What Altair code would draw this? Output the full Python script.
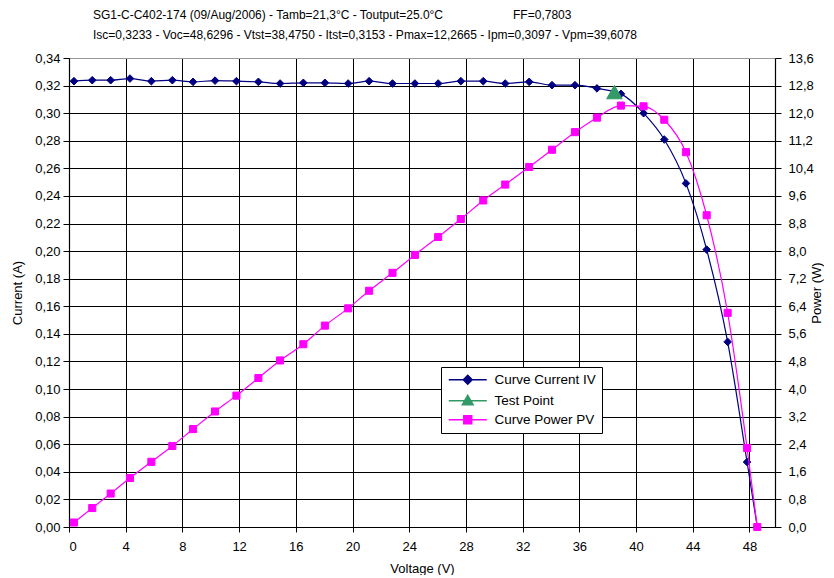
import altair as alt
import pandas as pd

# ---- data ----
voltage = [0.35, 1.64, 2.94, 4.30, 5.81, 7.29, 8.75, 10.30, 11.81, 13.36, 14.89,
           16.53, 18.05, 19.69, 21.17, 22.82, 24.40, 26.04, 27.64, 29.22, 30.77,
           32.46, 34.07, 35.69, 37.24, 38.93, 40.53, 41.99, 43.52, 44.98, 46.46,
           47.83, 48.55]
current = [0.3232, 0.3239, 0.3239, 0.3251, 0.3232, 0.3239, 0.3227, 0.3236, 0.3232,
           0.3227, 0.3215, 0.3220, 0.3220, 0.3215, 0.3232, 0.3215, 0.3215, 0.3215,
           0.3232, 0.3232, 0.3215, 0.3227, 0.3203, 0.3203, 0.3180, 0.3140, 0.3000,
           0.2809, 0.2491, 0.2011, 0.1342, 0.0471, 0.0]
power = [0.13, 0.55, 0.97, 1.42, 1.89, 2.35, 2.84, 3.35, 3.81, 4.32, 4.83, 5.30,
         5.84, 6.34, 6.85, 7.37, 7.89, 8.41, 8.93, 9.47, 9.93, 10.44, 10.94, 11.45,
         11.87, 12.22, 12.20, 11.81, 10.87, 9.04, 6.21, 2.29, 0.0]
test_v = [38.475]
test_i = [0.3153]

series_names = ["Curve Current IV", "Test Point", "Curve Power PV"]
series_colors = ["#000080", "#339966", "#FF00FF"]

x_ticks = [0, 4, 8, 12, 16, 20, 24, 28, 32, 36, 40, 44, 48]
i_ticks = [0.00, 0.02, 0.04, 0.06, 0.08, 0.10, 0.12, 0.14, 0.16, 0.18, 0.20,
           0.22, 0.24, 0.26, 0.28, 0.30, 0.32, 0.34]
p_ticks = [0.0, 0.8, 1.6, 2.4, 3.2, 4.0, 4.8, 5.6, 6.4, 7.2, 8.0, 8.8, 9.6,
           10.4, 11.2, 12.0, 12.8, 13.6]

title_line1 = "SG1-C-C402-174 (09/Aug/2006) - Tamb=21,3°C - Toutput=25.0°C"
title_ff = "FF=0,7803"
title_line2 = ("Isc=0,3233 - Voc=48,6296 - Vtst=38,4750 - Itst=0,3153 - "
               "Pmax=12,2665 - Ipm=0,3097 - Vpm=39,6078")

FONT = "Liberation Sans"

df_iv = pd.DataFrame({"V": voltage, "I": current, "series": series_names[0]})
df_tp = pd.DataFrame({"V": test_v, "I": test_i, "series": series_names[1]})
df_pv = pd.DataFrame({"V": voltage, "P": power, "series": series_names[2]})

# legend glyphs: short line with marker
p_iv = "M-1,0 L6.6,0 M2.8,-0.9 L3.7,0 L2.8,0.9 L1.9,0 Z"
p_tp = "M-1,0 L6.6,0 M2.8,-1.1 L3.9,0.8 L1.7,0.8 Z"
p_pv = "M-1,0 L6.6,0 M2.0,-0.8 L3.6,-0.8 L3.6,0.8 L2.0,0.8 Z"
shape_sig = ("datum.value === 'Curve Current IV' ? '" + p_iv + "' : "
             "datum.value === 'Test Point' ? '" + p_tp + "' : '" + p_pv + "'")

legend = alt.Legend(
    title=None, orient="none", legendX=372, legendY=309,
    fillColor="white", strokeColor="black", padding=6,
    labelFont=FONT, labelFontSize=13.5, labelColor="black",
    symbolSize=100, labelOffset=34, rowPadding=4,
    symbolType={"expr": shape_sig}, symbolStrokeWidth=1.4, symbolOpacity=1,
)
sc = alt.Scale(domain=series_names, range=series_colors)
fill_enc = alt.Fill("series:N", scale=sc, legend=legend)
stroke_enc = alt.Stroke("series:N", scale=sc, legend=legend)

x_enc = alt.X("V:Q", scale=alt.Scale(domain=[0, 49.8], nice=False, zero=False),
              axis=alt.Axis(values=x_ticks, title="Voltage (V)", grid=True,
                            gridColor="black", gridWidth=1, domainColor="black",
                            domainWidth=1.2, tickColor="black", tickSize=5,
                            labelPadding=8, labelFontSize=13, labelColor="black",
                            titleFontSize=13, titleFontWeight="normal",
                            titleColor="black", titlePadding=9,
                            labelFont=FONT, titleFont=FONT))

y_left = alt.Y("I:Q", scale=alt.Scale(domain=[0, 0.34], nice=False),
               axis=alt.Axis(values=i_ticks, orient="left", title="Current (A)",
                             labelExpr="replace(format(datum.value, '.2f'), '.', ',')",
                             grid=True,
                             gridColor={"condition": {"test": "datum.value > 0.339",
                                                      "value": "#999999"},
                                        "value": "black"},
                             gridWidth=1, domainColor="black", domainWidth=1.2,
                             tickColor="black", tickSize=6, labelPadding=3,
                             labelFontSize=13, labelColor="black",
                             titleFontSize=13, titleFontWeight="normal",
                             titleColor="black", titlePadding=10,
                             labelFont=FONT, titleFont=FONT))

y_right = alt.Y("P:Q", scale=alt.Scale(domain=[0, 13.6], nice=False),
                axis=alt.Axis(values=p_ticks, orient="right", title="Power (W)",
                              labelExpr="replace(format(datum.value, '.1f'), '.', ',')",
                              grid=False, domainColor="black", domainWidth=1.2,
                              tickColor="black", tickSize=6, labelPadding=7,
                              labelFontSize=13, labelColor="black",
                              titleFontSize=13, titleFontWeight="normal",
                              titleColor="black", titlePadding=10, titleAngle=270,
                              labelFont=FONT, titleFont=FONT))

iv_line = alt.Chart(df_iv).mark_line(color="#000080", strokeWidth=1.2,
                                     interpolate="monotone").encode(x=x_enc, y=y_left)
iv_pts = alt.Chart(df_iv).mark_point(shape="diamond", filled=True, size=58,
                                     opacity=1, strokeWidth=1).encode(
    x=x_enc, y=y_left, fill=fill_enc, stroke=stroke_enc)
tp_pt = alt.Chart(df_tp).mark_point(shape="triangle-up", filled=True, size=240,
                                    opacity=1, strokeWidth=1).encode(
    x=x_enc, y=y_left, fill=fill_enc, stroke=stroke_enc)
left = alt.layer(iv_line, iv_pts, tp_pt)

pv_line = alt.Chart(df_pv).mark_line(color="#FF00FF", strokeWidth=1.2,
                                     interpolate="monotone").encode(x=x_enc, y=y_right)
pv_pts = alt.Chart(df_pv).mark_point(shape="square", filled=True, size=50,
                                     opacity=1, strokeWidth=1).encode(
    x=x_enc, y=y_right, fill=fill_enc, stroke=stroke_enc)
right = alt.layer(pv_line, pv_pts)

nb = "\u00a0"
chart = alt.layer(left, right).resolve_scale(y="independent").properties(
    width=706, height=469,
    padding={"left": 3, "top": 1, "right": 0, "bottom": 0},
    title=alt.TitleParams(text=[title_line1 + nb * 21 + title_ff, title_line2],
                          anchor="start", frame="group", dx=24, offset=10,
                          fontSize=12, lineHeight=20, font=FONT,
                          fontWeight="normal", color="black"),
).configure_view(stroke="#999999", strokeWidth=1).configure(background="white")

chart.save("out.html", embed_options={"renderer": "svg", "actions": False})
